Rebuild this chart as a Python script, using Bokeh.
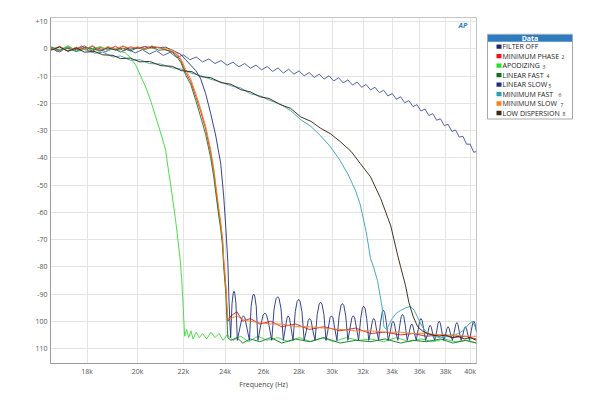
from bokeh.plotting import figure
from bokeh.models import Range1d, FixedTicker, Label
from bokeh.layouts import row
from bokeh.embed import file_html
from bokeh.resources import INLINE
from bokeh.core.properties import value

# ---------------- data (frequency in kHz, level in dB) ----------------
FILTER_OFF_F = [16.68, 16.9, 17.2, 17.5, 17.8, 18.1, 18.4, 18.7, 19.0, 19.3,
                19.6, 19.9, 20.2, 20.5, 20.8, 21.1, 21.4, 21.7, 22.0, 22.3,
                22.6, 22.9, 23.2, 23.5, 23.8, 24.1, 24.4, 24.7, 25.0, 25.3,
                25.6, 25.9, 26.2, 26.5, 26.8, 27.1, 27.4, 27.7, 28.0, 28.3,
                28.6, 28.9, 29.2, 29.5, 29.8, 30.1, 30.4, 30.7, 31.0, 31.3,
                31.6, 31.9, 32.2, 32.5, 32.8, 33.1, 33.4, 33.7, 34.0, 34.3,
                34.6, 34.9, 35.2, 35.5, 35.8, 36.1, 36.4, 36.7, 37.0, 37.3,
                37.6, 37.9, 38.2, 38.5, 38.8, 39.1, 39.4, 39.7, 40.0, 40.3,
                40.53]
FILTER_OFF_DB = [0.6, -0.9, 0.4, -0.6, 1.0, -0.8, 0.5, -1.1, 0.3, -1.2,
                 -0.1, -1.5, -0.3, -1.9, -0.7, -2.4, -1.3, -3.2, -2.2, -4.0,
                 -3.0, -4.8, -3.7, -5.4, -4.3, -6.0, -4.9, -6.6, -5.4, -7.1,
                 -6.0, -7.7, -6.5, -8.3, -7.0, -8.9, -7.5, -9.3, -8.1, -9.9,
                 -8.7, -10.5, -9.3, -11.1, -9.9, -11.8, -10.6, -12.5, -11.4, -13.3,
                 -12.2, -14.1, -13.1, -15.1, -14.1, -16.1, -15.2, -17.3, -16.4, -18.5,
                 -17.6, -19.8, -19.0, -21.2, -20.5, -22.8, -22.1, -24.5, -23.8, -26.2,
                 -25.7, -28.2, -27.7, -30.3, -29.8, -32.4, -32.1, -35.0, -35.0, -38.0,
                 -37.6]

STEEP_F = [16.68, 17.0, 17.3, 17.6, 17.9, 18.2, 18.5, 18.8, 19.1, 19.4,
           19.7, 20.0, 20.3, 20.6, 20.9, 21.2, 21.5,
           21.7, 21.9, 22.1, 22.34, 22.58, 22.81, 23.05, 23.29, 23.44, 23.54,
           23.68, 23.78, 23.88, 23.93, 24.04, 24.09, 24.14,
           24.3, 24.6, 24.9, 25.3, 25.8, 26.4, 27.0, 27.8, 28.6, 29.5,
           30.5, 31.5, 32.5, 33.5, 34.6, 35.5, 36.5, 37.6, 38.6, 39.6, 40.53]
MIN_PHASE_DB = [0.4, -1.2, 0.8, -0.4, 1.1, -0.8, 0.5, -0.2, 0.9, -0.6,
                0.7, 0.1, 0.9, 0.3, 0.6, -0.4, -1.0,
                -2.2, -4.5, -8.5, -12, -17.5, -23, -29.5, -38, -45, -51,
                -59.5, -64.5, -71, -78, -88, -95, -100,
                -98, -96.5, -100, -99, -101, -100, -102, -101, -103, -102,
                -103.5, -102.5, -104.5, -104, -105, -104.5, -105.5, -105, -106, -105.5, -106.5]
MIN_SLOW_DB = [-0.5, 0.9, -0.7, 0.6, -0.3, 1.2, -0.5, 0.8, -0.1, 1.0,
               0.2, 0.7, -0.2, 1.1, 0.4, 0.2, -0.6,
               -1.5, -3.8, -7.5, -11, -16.5, -22, -28.5, -37, -44, -50,
               -58, -63.5, -70, -77, -87, -94, -99,
               -99, -98, -99.5, -100, -100.5, -101, -101, -102, -102, -102.5,
               -103, -103.5, -103.5, -104, -104, -104.5, -104.5, -105, -105, -105.5, -105.5]
LINEAR_FAST_DB = [0.7, -0.6, 0.3, -1.0, 0.5, 0.1, -0.9, 0.6, -0.5, 0.3,
                  -0.8, 0.4, -0.3, 0.6, -0.5, -0.3, -1.3,
                  -2.8, -5.2, -9.5, -13, -19, -25, -31.5, -40, -47, -53,
                  -61, -66, -73, -80, -90, -99, -106,
                  -107, -106, -108, -106.5, -107.5, -106, -108, -106.5, -107.5, -106,
                  -108, -107, -107.5, -106.5, -108, -107, -107.5, -106.5, -108, -107, -108]

LINEAR_SLOW_F = [16.68, 17.0, 17.3, 17.6, 17.9, 18.2, 18.5, 18.8, 19.1, 19.4,
                 19.7, 20.0, 20.3, 20.6, 20.9, 21.2, 21.5,
                 21.88, 22.11, 22.34, 22.58, 22.81, 23.05, 23.29, 23.54, 23.78,
                 23.93, 24.04, 24.14, 24.19, 24.24,
                 24.28, 24.35, 24.41, 24.45, 24.49, 24.55,
                 24.62, 24.75, 24.86, 24.94, 25.01, 25.12,
                 25.25, 25.34, 25.42, 25.47, 25.53, 25.61,
                 25.70, 25.85, 25.98, 26.08, 26.17, 26.30,
                 26.45, 26.58, 26.69, 26.78, 26.86, 26.97,
                 27.10, 27.21, 27.31, 27.37, 27.44, 27.54,
                 27.65, 27.78, 27.89, 27.97, 28.06, 28.17,
                 28.30, 28.43, 28.54, 28.62, 28.71, 28.82,
                 28.95, 29.08, 29.20, 29.29, 29.37, 29.49,
                 29.62, 29.76, 29.87, 29.96, 30.05, 30.16,
                 30.30, 30.44, 30.56, 30.65, 30.74, 30.86,
                 31.00, 31.14, 31.26, 31.35, 31.44, 31.56,
                 31.70, 31.84, 31.95, 32.04, 32.13, 32.24,
                 32.38, 32.51, 32.63, 32.72, 32.80, 32.92,
                 33.05, 33.18, 33.30, 33.39, 33.47, 33.59,
                 33.72, 33.86, 33.97, 34.06, 34.15, 34.26,
                 34.40, 34.54, 34.65, 34.74, 34.83, 34.94,
                 35.08, 35.21, 35.33, 35.42, 35.50, 35.62,
                 35.75, 35.89, 36.01, 36.10, 36.19, 36.31,
                 36.45, 36.59, 36.71, 36.80, 36.89, 37.01,
                 37.15, 37.29, 37.41, 37.50, 37.59, 37.71,
                 37.85, 37.99, 38.11, 38.20, 38.29, 38.41,
                 38.55, 38.69, 38.81, 38.90, 38.99, 39.11,
                 39.25, 39.39, 39.51, 39.60, 39.69, 39.81,
                 39.95, 40.09, 40.21, 40.30, 40.39, 40.51,
                 40.53]
LINEAR_SLOW_DB = [-0.3, 0.8, -0.9, 0.5, -0.2, 0.9, -0.6, 0.4, -0.4, 1.0,
                  -0.2, 0.6, 0.2, 0.9, 0.4, 0.6, -0.5,
                  -2, -4, -6, -8, -11, -16.5, -23.7, -32, -42,
                  -54, -66, -78.5, -91, -100,
                  -106, -93.5, -89.7, -89, -89.7, -93.5,
                  -107, -102.5, -98.7, -98, -98.7, -102.5,
                  -107, -94.5, -90.7, -90, -90.7, -94.5,
                  -107, -101.5, -97.7, -97, -97.7, -101.5,
                  -107, -95.5, -91.7, -91, -91.7, -95.5,
                  -107, -102.5, -98.7, -98, -98.7, -102.5,
                  -107, -96.5, -92.7, -92, -92.7, -96.5,
                  -107, -103.5, -99.7, -99, -99.7, -103.5,
                  -107, -97.5, -93.7, -93, -93.7, -97.5,
                  -107, -102.5, -98.7, -98, -98.7, -102.5,
                  -107, -98, -94.2, -93.5, -94.2, -98,
                  -107, -102.5, -98.7, -98, -98.7, -102.5,
                  -107, -99, -95.2, -94.5, -95.2, -99,
                  -107, -103.5, -99.7, -99, -99.7, -103.5,
                  -107, -100.5, -96.7, -96, -96.7, -100.5,
                  -107, -104, -100.7, -100, -100.7, -104,
                  -107, -101.5, -98.2, -97.5, -98.2, -101.5,
                  -107, -104.5, -101.7, -101, -101.7, -104.5,
                  -107, -103, -99.7, -99, -99.7, -103,
                  -107, -105, -102.2, -101.5, -102.2, -105,
                  -107, -104, -100.7, -100, -100.7, -104,
                  -107, -105, -102.7, -102, -102.7, -105,
                  -107, -104, -101.2, -100.5, -101.2, -104,
                  -107, -105, -102.7, -102, -102.7, -105,
                  -107, -103.5, -100.7, -100, -100.7, -103.5,
                  -104]

APODIZING_F = [16.68, 17.0, 17.3, 17.6, 17.9, 18.2, 18.5, 18.8, 19.1, 19.3,
               19.5, 19.7, 19.92, 20.13, 20.34, 20.55, 20.77, 20.99, 21.2, 21.3,
               21.43, 21.55, 21.65, 21.75, 21.85, 21.92, 21.97, 22.02, 22.06, 22.15,
               22.25, 22.35, 22.45, 22.6, 22.75, 22.9, 23.1, 23.3, 23.5, 23.7,
               23.9, 24.1, 24.4, 24.8, 25.2, 25.7, 26.2, 26.8, 27.4, 28.0,
               28.7, 29.4, 30.1, 30.9, 31.7, 32.5, 33.4, 34.3, 35.2, 36.1,
               37.0, 37.9, 38.8, 39.7, 40.53]
APODIZING_DB = [0.8, -0.5, 1.2, -0.8, 0.4, -0.3, 0.9, -0.6, 0.2, -0.9,
                -1.5, -3.2, -6, -10, -14, -19, -25, -31, -37, -43,
                -50, -57, -63, -70, -77, -84, -91, -99, -105.5, -103,
                -106, -103.5, -106.5, -104, -106, -104.5, -106.5, -104, -106, -104.5,
                -107, -105, -107, -105.5, -107.5, -105.5, -107, -106, -107.5, -106,
                -107.5, -106, -107.5, -106, -107, -106.5, -107.5, -106, -107.5, -106.5,
                -107.5, -106.5, -107.5, -107, -108]

MIN_FAST_F = [16.68, 17.0, 17.3, 17.6, 17.9, 18.3, 18.6, 19.0, 19.3, 19.7,
              20.1, 20.5, 21.0, 21.5, 21.9, 22.4, 22.8, 23.3, 23.8, 24.3,
              24.8, 25.3, 25.8, 26.3, 26.9, 27.5, 28.1, 28.7, 29.3, 29.9,
              30.5, 31.0, 31.5, 31.8, 32.0, 32.2, 32.35, 32.5, 32.7, 32.97,
              33.2, 33.32, 33.42, 33.6, 33.8, 34.0, 34.3, 34.6, 35.0, 35.33,
              35.6, 35.9, 36.2, 36.6, 37.0, 37.6, 38.2, 38.8, 39.4, 39.9,
              40.2, 40.53]
MIN_FAST_DB = [0.5, -0.8, 0.6, -1.0, -0.2, -1.6, -1.2, -3.0, -2.6, -4.2,
               -4.0, -5.4, -5.6, -7.0, -7.4, -9.0, -9.8, -11.2, -12.2, -13.6,
               -14.4, -16.5, -17.2, -18.8, -20.2, -22.6, -26, -28.5, -32, -36,
               -41, -46, -52, -57, -62, -67, -72, -77, -80, -85,
               -92, -96, -102, -103, -101, -99, -97, -96, -95, -94.5,
               -96, -99, -102, -104.5, -105.5, -106, -105.5, -105, -103.5, -101,
               -100, -103]

LOW_DISP_F = [16.68, 17.0, 17.3, 17.6, 17.9, 18.3, 18.6, 19.0, 19.3, 19.7,
              20.1, 20.5, 21.0, 21.5, 21.9, 22.4, 22.8, 23.3, 23.8, 24.3,
              24.8, 25.3, 25.8, 26.3, 26.9, 27.5, 28.1, 28.7, 29.3, 29.9,
              30.5, 31.2, 31.8, 32.5, 33.2, 33.9, 34.4, 34.6, 34.96, 35.2,
              35.5, 35.85, 36.2, 36.6, 37.0, 37.5, 38.0, 38.5, 39.0, 39.5,
              40.0, 40.53]
LOW_DISP_DB = [-0.6, 0.7, -0.9, 0.3, -1.2, -1.0, -2.2, -2.4, -3.6, -3.4,
               -4.8, -4.6, -6.2, -6.4, -8.0, -8.4, -10.2, -10.6, -12.4, -13.0,
               -15.0, -15.8, -17.6, -18.2, -20.4, -21.8, -25, -26.6, -29.2, -31.2,
               -34, -37.6, -42, -47, -55, -65, -76, -80, -87, -93,
               -98, -102, -103.5, -104.5, -105, -105.5, -105, -106, -105.5, -106.5,
               -106, -107]

SERIES_NAMES = ["FILTER OFF", "MINIMUM PHASE", "APODIZING", "LINEAR FAST",
                "LINEAR SLOW", "MINIMUM FAST", "MINIMUM SLOW", "LOW DISPERSION"]
SERIES_NUMS = ["", "2", "3", "4", "5", "6", "7", "8"]
LINE_COLORS = ["#4a5ba2", "#e3241f", "#3fde3f", "#1f7d2b",
               "#2a3a88", "#3aa8b8", "#ff7d25", "#3a2a12"]
SWATCH_COLORS = ["#1c2a6b", "#e8141b", "#22e02a", "#11701c",
                 "#1f2f80", "#2aa0b0", "#ff7f1a", "#3a2a10"]

Y_TICKS = [10, 0, -10, -20, -30, -40, -50, -60, -70, -80, -90, -100, -110]
Y_LABELS = ["+10", "0", "-10", "-20", "-30", "-40", "-50", "-60", "-70", "-80", "-90", "100", "110"]
X_TICKS_KHZ = [18, 20, 22, 24, 26, 28, 30, 32, 34, 36, 38, 40]
X_LABELS = ["18k", "20k", "22k", "24k", "26k", "28k", "30k", "32k", "34k", "36k", "38k", "40k"]

FONT = "Open Sans"

def hz(lst):
    return [v * 1000.0 for v in lst]

series = [
    (FILTER_OFF_F, FILTER_OFF_DB),
    (STEEP_F, MIN_PHASE_DB),
    (APODIZING_F, APODIZING_DB),
    (STEEP_F, LINEAR_FAST_DB),
    (LINEAR_SLOW_F, LINEAR_SLOW_DB),
    (MIN_FAST_F, MIN_FAST_DB),
    (STEEP_F, MIN_SLOW_DB),
    (LOW_DISP_F, LOW_DISP_DB),
]

# ---------------- main plot ----------------
p = figure(frame_width=426, frame_height=346, x_axis_type="log",
           x_range=Range1d(16680, 40530), y_range=Range1d(-115.5, 11.5),
           output_backend="svg", toolbar_location=None,
           min_border_left=50, min_border_right=8, min_border_top=17, min_border_bottom=18)
p.background_fill_color = "white"
p.border_fill_color = "white"
p.outline_line_color = "#c4c4c4"

for (f, db), col in zip(series, LINE_COLORS):
    p.line(hz(f), db, line_color=col, line_width=1, line_alpha=0.95)

p.xaxis.ticker = FixedTicker(ticks=hz(X_TICKS_KHZ), minor_ticks=[])
p.xaxis.major_label_overrides = {t * 1000: lab for t, lab in zip(X_TICKS_KHZ, X_LABELS)}
p.yaxis.ticker = FixedTicker(ticks=Y_TICKS, minor_ticks=[])
p.yaxis.major_label_overrides = {t: lab for t, lab in zip(Y_TICKS, Y_LABELS)}

for ax in (p.xaxis[0], p.yaxis[0]):
    ax.axis_line_color = "#9c9c9c"
    ax.major_tick_line_color = None
    ax.minor_tick_line_color = None
    ax.major_tick_out = 0
    ax.major_tick_in = 0
    ax.minor_tick_out = 0
    ax.major_label_text_font = FONT
    ax.major_label_text_font_size = "7px"
    ax.major_label_text_color = "#555555"
    ax.major_label_standoff = 3

p.xaxis.axis_label = "Frequency (Hz)"
p.xaxis.axis_label_text_font = FONT
p.xaxis.axis_label_text_font_size = "7px"
p.xaxis.axis_label_text_font_style = "normal"
p.xaxis.axis_label_text_color = "#444444"
p.xaxis.axis_label_standoff = 1

p.xgrid.grid_line_color = "#e4e4e4"
p.ygrid.grid_line_color = "#e4e4e4"

p.add_layout(Label(x=408, y=334, x_units="screen", y_units="screen", text="AP",
                   text_font=FONT, text_font_size="7px", text_font_style="bold italic",
                   text_color="#2f7fc4"))

# ---------------- legend panel ----------------
lg = figure(width=100, height=384, x_range=Range1d(0, 100), y_range=Range1d(384, 0),
            output_backend="svg", toolbar_location=None, min_border=0)
lg.axis.visible = False
lg.grid.visible = False
lg.outline_line_color = None
lg.background_fill_color = "white"
lg.border_fill_color = "white"

lg.quad(left=[3], right=[88], top=[19], bottom=[115], fill_color="white", line_color="#a8a8a8", line_width=1)
lg.quad(left=[3.5], right=[87.5], top=[19.5], bottom=[27.5], fill_color="#2f7bbf", line_color=None)
lg.text(x=[45.5], y=[23.5], text=["Data"], text_align="center", text_baseline="middle",
        text_font=value(FONT), text_font_size="7px", text_font_style="bold", text_color="white")

row_y = [33 + 10.75 * i for i in range(len(SERIES_NAMES))]
lg.rect(x=[14.5] * len(row_y), y=row_y, width=5, height=5, fill_color=SWATCH_COLORS, line_color=None)
lg.text(x=[18] * len(row_y), y=row_y, text=SERIES_NAMES, text_align="left", text_baseline="middle",
        text_font=value(FONT), text_font_size="7px", text_color="#222222")
num_x = [0, 77, 58, 62, 64, 74, 76, 78]
lg.text(x=num_x[1:], y=[v + 1.5 for v in row_y[1:]], text=SERIES_NUMS[1:], text_align="left",
        text_baseline="middle", text_font=value(FONT), text_font_size="5px", text_color="#333333")

layout = row(p, lg)
open("out.html", "w").write(file_html(layout, INLINE))
